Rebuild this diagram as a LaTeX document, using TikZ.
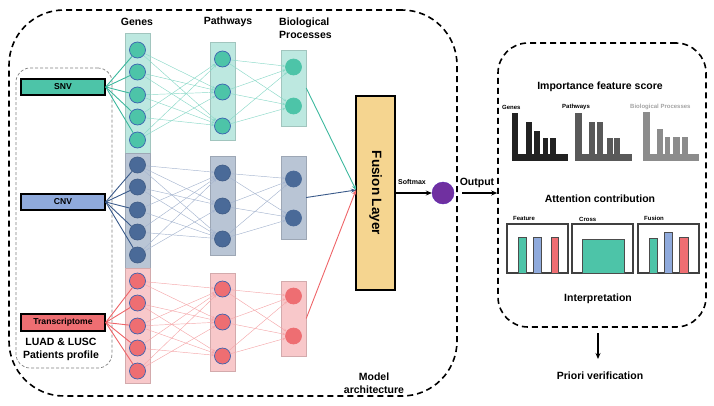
\documentclass[tikz,border=0pt]{standalone}
\usepackage{fontspec}
\setmainfont{Liberation Sans}
\usetikzlibrary{arrows.meta}
\definecolor{tealF}{HTML}{4DC4A8}
\definecolor{tealCol}{HTML}{BDE8E0}
\definecolor{tealLine}{HTML}{8BD9C8}
\definecolor{tealDark}{HTML}{3DB89E}
\definecolor{blueN}{HTML}{4A6A98}
\definecolor{blueCol}{HTML}{B9C5D5}
\definecolor{blueLine}{HTML}{A6B5CF}
\definecolor{blueDark}{HTML}{3A5A8A}
\definecolor{pinkN}{HTML}{EE6E72}
\definecolor{pinkCol}{HTML}{F8C8CA}
\definecolor{pinkLine}{HTML}{F5A8AB}
\definecolor{pinkDark}{HTML}{EE6468}
\definecolor{nodeEdge}{HTML}{3A62B0}
\definecolor{cnvF}{HTML}{8FAADC}
\definecolor{fusF}{HTML}{F5D590}
\definecolor{purp}{HTML}{7030A0}
\definecolor{cA}{HTML}{222222}
\definecolor{cB}{HTML}{595959}
\definecolor{cC}{HTML}{8C8C8C}
\tikzset{
  every node/.style={inner sep=0pt},
  hdr/.style={font=\fontsize{10.5}{13}\selectfont\bfseries},
  tiny/.style={font=\fontsize{6}{7}\selectfont\bfseries},
  colbox/.style={fill=#1, draw=#1!85!black, line width=0.4pt, minimum width=25pt},
  neuron/.style={circle, minimum size=16pt, line width=0.7pt},
  inbox/.style={draw=black, line width=1.4pt, minimum width=84pt, minimum height=16pt, font=\fontsize{8.6}{10}\selectfont\bfseries},
  bigdash/.style={draw=black, line width=1.6pt, dash pattern=on 6pt off 4pt},
  thinarr/.style={line width=0.45pt, -{Stealth[length=3pt,width=2.6pt]}},
  inline/.style={line width=0.9pt},
  arr/.style={line width=1.2pt, -{Stealth[length=6pt,width=5pt]}},
  bar/.style={draw=black!70, line width=0.6pt}
}
\begin{document}
\begin{tikzpicture}[x=1pt,y=-1pt]
\useasboundingbox (0,0) rectangle (714,405);

% outer dashed boxes
\node[bigdash, rounded corners=55pt, minimum width=448pt, minimum height=386pt] (outer) at (233,203) {};
\node[bigdash, rounded corners=30pt, minimum width=208pt, minimum height=284pt] (rbox) at (602,185) {};
\node[draw=gray, line width=0.7pt, dash pattern=on 3pt off 2pt, rounded corners=14pt, minimum width=96pt, minimum height=300pt] (pbox) at (64,218) {};

% headers
\node[hdr] (hG) at (137,22) {Genes};
\node[hdr] (hP) at (228,22) {Pathways};
\node[hdr, align=left, anchor=west] (hB) at (279,28) {Biological\\Processes};

% input boxes
\node[inbox, fill=tealF] (snv) at (63,87) {SNV};
\node[inbox, fill=cnvF] (cnv) at (63,202) {CNV};
\node[inbox, fill=pinkN, minimum height=17pt] (trs) at (63,322.5) {Transcriptome};
\node[hdr, align=center] (lusc) at (61,349) {LUAD \& LUSC\\Patients profile};

% columns
\node[colbox=tealCol, minimum height=120pt] (gcT) at (137.5,93) {};
\node[colbox=blueCol, minimum height=115pt] (gcB) at (137.5,210.5) {};
\node[colbox=pinkCol, minimum height=115pt] (gcP) at (137.5,325.5) {};
\node[colbox=tealCol, minimum height=98pt] (pcT) at (222.5,91) {};
\node[colbox=blueCol, minimum height=99pt] (pcB) at (222.5,205.5) {};
\node[colbox=pinkCol, minimum height=98pt] (pcP) at (222.5,322) {};
\node[colbox=tealCol, minimum height=76pt] (bcT) at (293.5,88) {};
\node[colbox=blueCol, minimum height=83pt] (bcB) at (293.5,197.5) {};
\node[colbox=pinkCol, minimum height=75pt] (bcP) at (293.5,318.5) {};

% neurons
\foreach \y [count=\i] in {50,72,95,117,140} \node[neuron, fill=tealF, draw=nodeEdge] (gT\i) at (137.5,\y) {};
\foreach \y [count=\i] in {165,187,210,232,255} \node[neuron, fill=blueN, draw=blueN!90!black] (gB\i) at (137.5,\y) {};
\foreach \y [count=\i] in {281,303,326,348,371} \node[neuron, fill=pinkN, draw=nodeEdge] (gP\i) at (137.5,\y) {};
\foreach \y [count=\i] in {59,92,126} \node[neuron, fill=tealF, draw=nodeEdge] (pT\i) at (222.5,\y) {};
\foreach \y [count=\i] in {173,206,239} \node[neuron, fill=blueN, draw=blueN!90!black] (pB\i) at (222.5,\y) {};
\foreach \y [count=\i] in {289,322,356} \node[neuron, fill=pinkN, draw=nodeEdge] (pP\i) at (222.5,\y) {};
\foreach \y [count=\i] in {67,106} \node[neuron, fill=tealF, draw=tealF] (bT\i) at (293.5,\y) {};
\foreach \y [count=\i] in {179,218} \node[neuron, fill=blueN, draw=blueN] (bB\i) at (293.5,\y) {};
\foreach \y [count=\i] in {296,336} \node[neuron, fill=pinkN, draw=pinkN] (bP\i) at (293.5,\y) {};

% input -> genes
\foreach \i in {1,...,5} {
  \draw[inline, tealDark] (snv.east) -- (gT\i);
  \draw[inline, blueDark] (cnv.east) -- (gB\i);
  \draw[inline, pinkDark] (trs.east) -- (gP\i);
}
% genes -> pathways
\foreach \g/\p in {1/2,1/3,2/2,2/3,3/2,3/3,4/1,4/3,5/1,5/2}
  \draw[thinarr, tealLine] (gT\g) -- (pT\p);
\foreach \g/\p in {1/1,1/2,1/3,2/2,2/3,3/1,3/3,4/1,4/3,5/1,5/2}
  \draw[thinarr, blueLine] (gB\g) -- (pB\p);
\foreach \g/\p in {1/1,1/2,2/2,2/3,3/1,3/2,3/3,4/1,4/3,5/1,5/2}
  \draw[thinarr, pinkLine] (gP\g) -- (pP\p);
% pathways -> processes
\foreach \p in {1,2,3} \foreach \b in {1,2} {
  \draw[thinarr, tealLine] (pT\p) -- (bT\b);
  \draw[thinarr, blueLine] (pB\p) -- (bB\b);
  \draw[thinarr, pinkLine] (pP\p) -- (bP\b);
}

% fusion layer
\node[fill=fusF, draw=black, line width=1.4pt, minimum width=39pt, minimum height=194pt] (fus) at (375.5,193) {};
\node[rotate=-90, font=\fontsize{13.5}{15}\selectfont\bfseries] (fustxt) at (fus.center) {Fusion Layer};
\coordinate (fin) at (356,190);
\draw[line width=0.9pt, tealDark, -{Stealth[length=5pt,width=4pt]}] (bcT.east) -- (fin);
\draw[line width=0.9pt, blueDark, -{Stealth[length=5pt,width=4pt]}] (bcB.east) -- (fin);
\draw[line width=0.9pt, pinkDark, -{Stealth[length=5pt,width=4pt]}] (bcP.east) -- (fin);

% softmax / output
\node[circle, fill=purp, draw=purp!80!blue, minimum size=22pt] (pc) at (443,193) {};
\draw[arr] (fus.east) -- (pc.west);
\node[font=\fontsize{7}{8}\selectfont\bfseries] (smx) at (412,182) {Softmax};
\coordinate (os) at (462,193);
\draw[arr] (os) -- (os -| rbox.west);
\node[hdr] (outl) at (477,183) {Output};
\node[hdr, align=center] (march) at (374,383.5) {Model\\architecture};

% right panel
\node[hdr] (ifs) at (600,87) {Importance feature score};
\node[tiny, anchor=west] (lG) at (502,107) {Genes};
\node[tiny, anchor=west] (lP) at (562,107) {Pathways};
\node[tiny, anchor=west, text=cC!80!white] (lB) at (630,107) {Biological Processes};
\fill[cA] (512,113) rectangle (518,161);
\fill[cA] (512,154) rectangle (568,161);
\fill[cA] (526,122) rectangle (532,154);
\fill[cA] (534,131) rectangle (540,154);
\fill[cA] (543,138) rectangle (548,154);
\fill[cA] (550,138) rectangle (556,154);
\fill[cB] (575,113) rectangle (582,161);
\fill[cB] (575,154) rectangle (632,161);
\fill[cB] (589,122) rectangle (595,154);
\fill[cB] (597,122) rectangle (603,154);
\fill[cB] (607,138) rectangle (613,154);
\fill[cB] (614,138) rectangle (620,154);
\fill[cC] (643,112) rectangle (650,161);
\fill[cC] (643,154) rectangle (699,161);
\fill[cC] (657,129) rectangle (663,154);
\fill[cC] (665,137) rectangle (670,154);
\fill[cC] (673,137) rectangle (680,154);
\fill[cC] (682,137) rectangle (688,154);

\node[hdr] (att) at (600,199) {Attention contribution};
\node[tiny, anchor=west] (lF) at (513,218) {Feature};
\node[tiny, anchor=west] (lC) at (579,219) {Cross};
\node[tiny, anchor=west] (lU) at (644,218) {Fusion};
\draw[black!75, line width=1.2pt] (507,224) rectangle (568,273);
\draw[black!75, line width=1.2pt] (572,224) rectangle (633,273);
\draw[black!75, line width=1.2pt] (638,224) rectangle (699,273);
\draw[bar, fill=tealF] (518,237) rectangle (526,273);
\draw[bar, fill=cnvF] (533,237) rectangle (541,273);
\draw[bar, fill=pinkN] (551,237) rectangle (558,273);
\draw[bar, fill=tealF] (582,239) rectangle (624,273);
\draw[bar, fill=tealF] (649,238) rectangle (657,273);
\draw[bar, fill=cnvF] (664,232) rectangle (672,273);
\draw[bar, fill=pinkN] (679,237) rectangle (688,273);

\node[hdr] (interp) at (598,299) {Interpretation};
\coordinate (da) at (598,333);
\coordinate (db) at (598,359);
\draw[arr] (da) -- (db);
\node[hdr] (pv) at (600,376) {Priori verification};
\end{tikzpicture}
\end{document}
